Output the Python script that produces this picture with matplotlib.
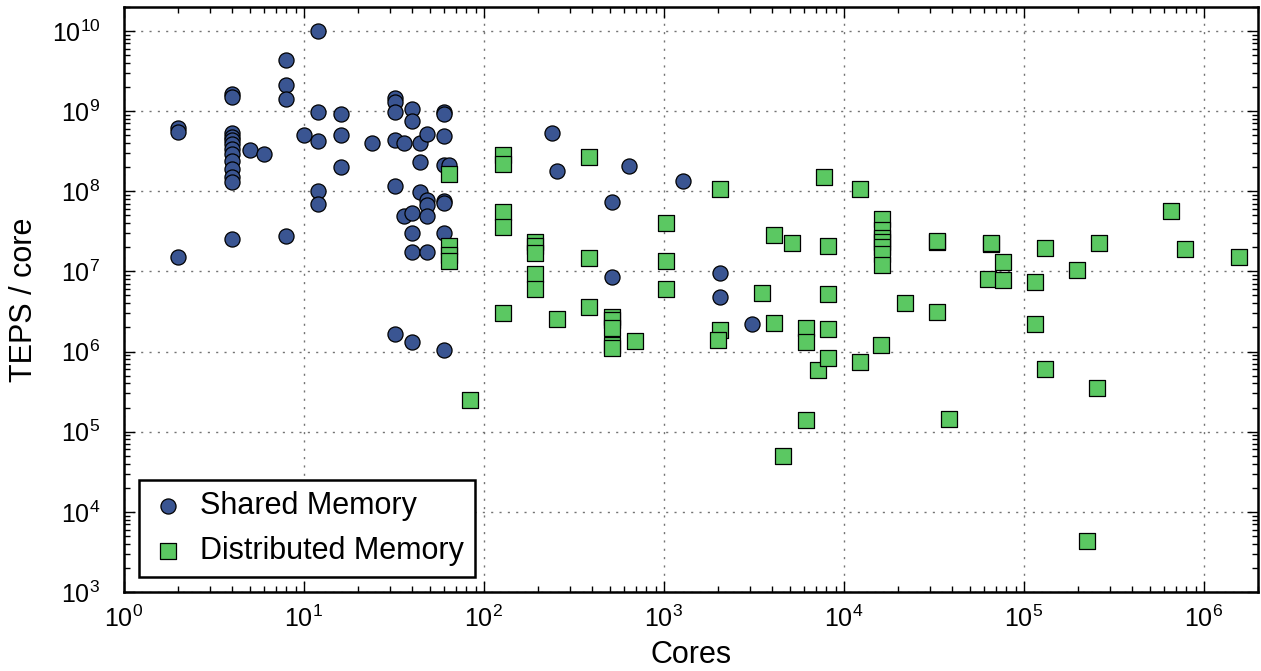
import numpy as np
import matplotlib
matplotlib.use("Agg")
import matplotlib.pyplot as plt

plt.rcParams['font.family'] = ['Liberation Sans', 'DejaVu Sans']
plt.rcParams['mathtext.fontset'] = 'custom'
plt.rcParams['mathtext.rm'] = 'Liberation Sans'

# shared memory results (cores, TEPS per core)
shared_cores = [12, 8, 8, 8, 4, 4, 2, 2,
                4, 4, 4, 4, 4, 4, 4, 4, 4, 4,
                5, 6, 10, 12, 12, 12, 12, 16, 16, 16, 24,
                4, 8, 2,
                32, 32, 32, 32, 32, 32, 36, 36,
                40, 40, 40, 40, 40, 40, 44, 44, 44,
                48, 48, 48, 48, 48,
                60, 60, 60, 60, 60, 60, 60, 60, 64,
                240, 256, 640, 1280, 512, 512, 2048, 2048, 3072]
shared_teps = [1e10, 4.3e9, 2.1e9, 1.4e9, 1.65e9, 1.5e9, 6.2e8, 5.4e8,
               5.3e8, 4.8e8, 4.3e8, 3.9e8, 3.4e8, 2.9e8, 2.4e8, 1.9e8, 1.5e8, 1.3e8,
               3.3e8, 2.9e8, 5e8, 9.8e8, 4.2e8, 1e8, 7e7, 9.1e8, 5e8, 2e8, 4e8,
               2.5e7, 2.8e7, 1.5e7,
               1.45e9, 1.3e9, 9.8e8, 4.3e8, 1.15e8, 1.65e6, 4e8, 4.9e7,
               1.05e9, 7.5e8, 5.4e7, 3e7, 1.73e7, 1.32e6, 4e8, 2.3e8, 9.7e7,
               5.2e8, 7.7e7, 6.7e7, 4.9e7, 1.73e7,
               9.7e8, 9.3e8, 4.9e8, 2.1e8, 7.5e7, 7.2e7, 3e7, 1.05e6, 2.1e8,
               5.3e8, 1.8e8, 2.05e8, 1.35e8, 7.3e7, 8.6e6, 9.5e6, 4.8e6, 2.2e6]

# distributed memory results
dist_cores = [64, 64, 64, 64, 84,
              128, 128, 128, 128, 128,
              192, 192, 192, 192, 192, 256,
              384, 384, 384, 512, 512, 512, 512, 512, 690,
              1024, 1024, 1024, 2048, 2048, 2000, 3500,
              4096, 4096, 4600, 5120, 6144, 6144, 6144, 7200, 7800,
              8192, 8192, 8192, 8192, 12288, 12288,
              16384, 16384, 16384, 16384, 16384, 16384, 16384, 16000, 21800,
              32768, 32768, 32768, 38400, 63000, 65536, 65536, 77000, 77000,
              115000, 115000, 131072, 131072, 196608, 225000, 256000, 262144,
              660000, 786432, 1572864]
dist_teps = [1.65e8, 2.05e7, 1.6e7, 1.35e7, 2.5e5,
             2.8e8, 2.2e8, 5.5e7, 3.6e7, 3e6,
             2.3e7, 2.05e7, 1.7e7, 9.3e6, 6e6, 2.55e6,
             2.7e8, 1.45e7, 3.6e6, 2.7e6, 2.45e6, 1.95e6, 1.2e6, 1.1e6, 1.36e6,
             4e7, 1.36e7, 6e6, 1.08e8, 1.85e6, 1.4e6, 5.3e6,
             2.85e7, 2.3e6, 5e4, 2.25e7, 1.95e6, 1.3e6, 1.4e5, 5.8e5, 1.5e8,
             2.1e7, 5.2e6, 1.9e6, 8.3e5, 1.08e8, 7.5e5,
             4.5e7, 3.3e7, 2.6e7, 2.3e7, 2e7, 1.65e7, 1.2e7, 1.2e6, 4e6,
             2.3e7, 2.4e7, 3.1e6, 1.45e5, 8e6, 2.2e7, 2.25e7, 1.3e7, 7.9e6,
             7.4e6, 2.2e6, 1.95e7, 6e5, 1.05e7, 4.3e3, 3.5e5, 2.25e7,
             5.7e7, 1.9e7, 1.5e7]

fig = plt.figure(figsize=(12.61, 6.71), dpi=100)
ax = fig.add_axes([0.0983, 0.1177, 0.8993, 0.8723])

ax.scatter(shared_cores, shared_teps, s=118, marker='o', c='#3a5592',
           edgecolors='black', linewidths=0.9, label='Shared Memory', zorder=3)
ax.scatter(dist_cores, dist_teps, s=118, marker='s', c='#5bc862',
           edgecolors='black', linewidths=0.9, label='Distributed Memory', zorder=4)

ax.set_xscale('log')
ax.set_yscale('log')
ax.set_xlim(1, 2e6)
ax.set_ylim(1e3, 2e10)

ax.grid(True, which='major', linestyle=(0, (1.5, 4.5)), color='0.45', linewidth=1)
ax.set_axisbelow(True)
ax.tick_params(which='both', direction='in', top=True, right=True, labelsize=18)
ax.tick_params(which='major', length=8, width=1)
ax.tick_params(which='minor', length=4, width=1)
ax.tick_params(axis='x', pad=10)
ax.tick_params(axis='y', pad=17)
for sp in ax.spines.values():
    sp.set_linewidth(1.8)

ax.set_xlabel('Cores', fontsize=22)
ax.set_ylabel('TEPS / core', fontsize=22)
ax.xaxis.set_label_coords(0.5, -0.082)
ax.yaxis.set_label_coords(-0.0745, 0.5)

leg = ax.legend(loc='lower left', fontsize=22, scatterpoints=1, fancybox=False,
                framealpha=1, edgecolor='black', borderpad=0.35,
                handlelength=1.2, handletextpad=0.45, labelspacing=0.5,
                bbox_to_anchor=(0.0, 0.0))
leg.get_frame().set_linewidth(1.8)

fig.savefig('out.png', dpi=100)
